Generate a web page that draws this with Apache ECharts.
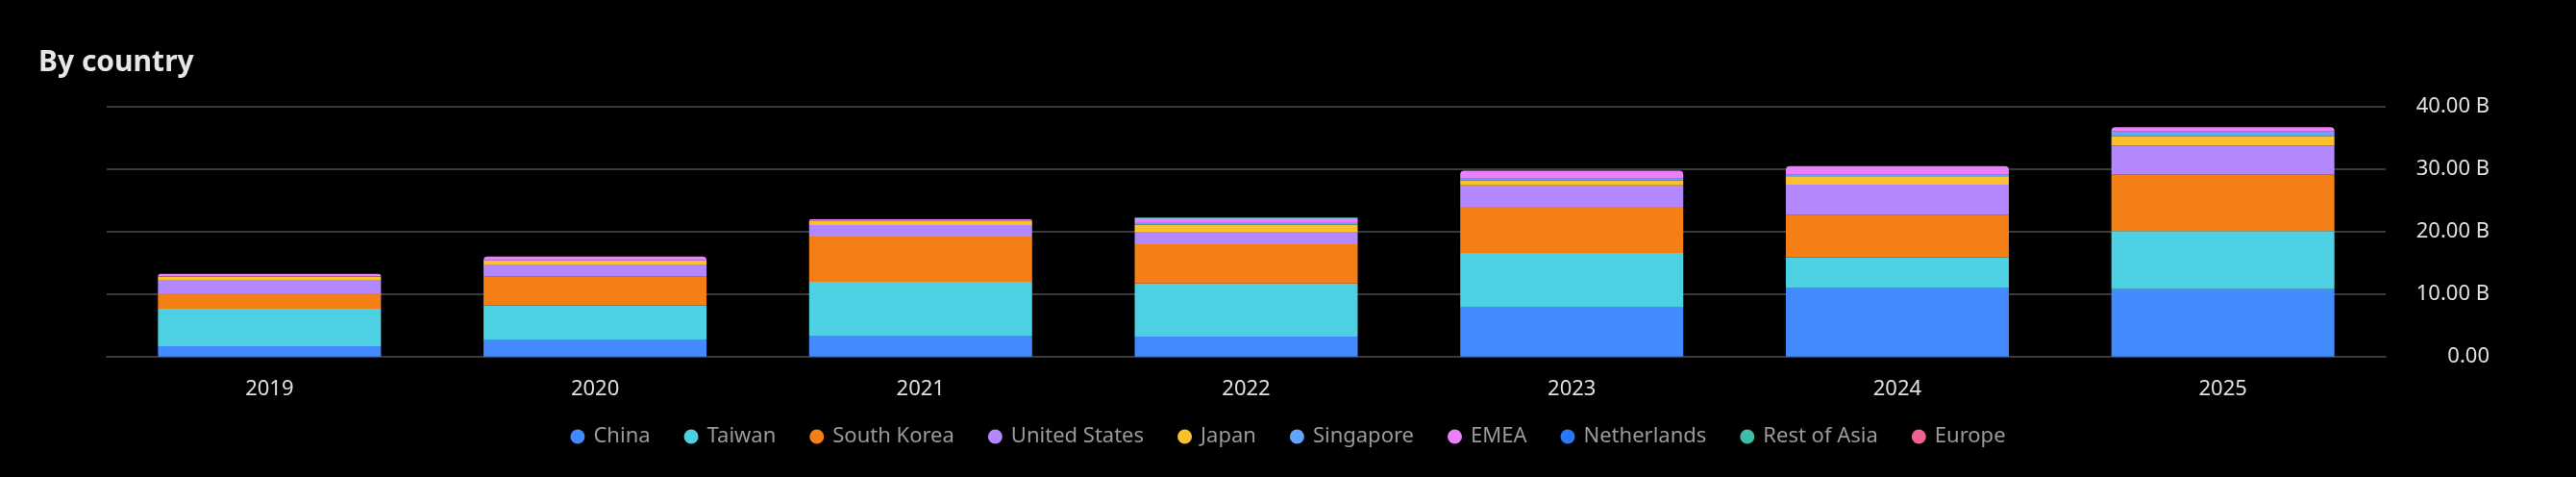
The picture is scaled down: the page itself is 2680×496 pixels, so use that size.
<!DOCTYPE html>
<html>
<head>
<meta charset="utf-8">
<script src="https://cdn.jsdelivr.net/npm/echarts@6/dist/echarts.min.js"></script>
<style>
html,body{margin:0;padding:0;background:#000;}
#c{width:2680px;height:496px;}
</style>
</head>
<body>
<div id="c"></div>
<script>
const years = ['2019','2020','2021','2022','2023','2024','2025'];
const seriesNames = ['China','Taiwan','South Korea','United States','Japan','Singapore','EMEA','Netherlands','Rest of Asia','Europe'];
const china        = [1.65, 2.73, 3.34, 3.19, 7.97, 11.05, 10.79];
const taiwan       = [6.00, 5.44, 8.63, 8.52, 8.63, 4.82, 9.29];
const southKorea   = [2.47, 4.62, 7.24, 6.27, 7.40, 6.78, 9.09];
const unitedStates = [2.16, 1.95, 1.85, 2.00, 3.39, 4.88, 4.62];
const japan        = [0.50, 0.62, 0.60, 1.12, 0.77, 1.23, 1.49];
const singapore    = [0.05, 0.05, 0.05, 0.42, 0.31, 0.35, 0.77];
const emea         = [0.40, 0.62, 0.25, 0.66, 1.28, 1.39, 0.66];
const netherlands  = [0, 0, 0, 0, 0, 0, 0];
const restOfAsia   = [0, 0, 0, 0.10, 0, 0, 0];
const europe       = [0, 0, 0, 0, 0, 0, 0];
const yTicks = [0, 10, 20, 30, 40];

const values = [china, taiwan, southKorea, unitedStates, japan, singapore, emea, netherlands, restOfAsia, europe];
const colors = ['#448aff','#4dd0e1','#f57f17','#b388ff','#fbc02d','#64a6ff','#ea80fc','#2979ff','#3dbfa5','#f06292'];

// find top segment per category for rounded corner
const topIdx = years.map((_, j) => {
  let t = 0;
  values.forEach((arr, i) => { if (arr[j] > 0) t = i; });
  return t;
});

const series = seriesNames.map((name, i) => ({
  name: name,
  type: 'bar',
  stack: 'total',
  barWidth: '68.5%',
  itemStyle: { color: colors[i] },
  emphasis: { disabled: true },
  data: values[i].map((v, j) => topIdx[j] === i
    ? { value: v, itemStyle: { borderRadius: [4, 4, 0, 0] } }
    : v)
}));

const chart = echarts.init(document.getElementById('c'), null, { renderer: 'canvas' });
chart.setOption({
  backgroundColor: '#000',
  animation: false,
  title: {
    text: 'By country',
    left: 35,
    top: 45,
    textStyle: { color: '#e6e6e6', fontSize: 30, fontWeight: 'bold', fontFamily: 'Noto Sans' }
  },
  legend: {
    data: seriesNames,
    bottom: 26,
    left: 'center',
    icon: 'circle',
    itemWidth: 15,
    itemHeight: 15,
    itemGap: 35,
    textStyle: { color: '#9a9a9a', fontSize: 22, fontFamily: 'Noto Sans', padding: [0, 0, 0, 4] }
  },
  grid: { left: 111, right: 198, top: 111, bottom: 125.3, containLabel: false },
  xAxis: {
    type: 'category',
    data: years,
    axisLine: { show: true, lineStyle: { color: '#3a3a3a', width: 2 } },
    axisTick: { show: false },
    axisLabel: { color: '#e0e0e0', fontSize: 22, fontFamily: 'Noto Sans', margin: 23 }
  },
  yAxis: {
    type: 'value',
    position: 'right',
    min: yTicks[0],
    max: yTicks[yTicks.length - 1],
    interval: 10,
    axisLine: { show: false },
    axisTick: { show: false },
    splitLine: { lineStyle: { color: '#3a3a3a', width: 2 } },
    axisLabel: {
      color: '#e0e0e0', fontSize: 22, fontFamily: 'Noto Sans',
      align: 'right', margin: 108,
      formatter: v => v === 0 ? '0.00' : v.toFixed(2) + ' B'
    }
  },
  series: series
});
</script>
</body>
</html>
